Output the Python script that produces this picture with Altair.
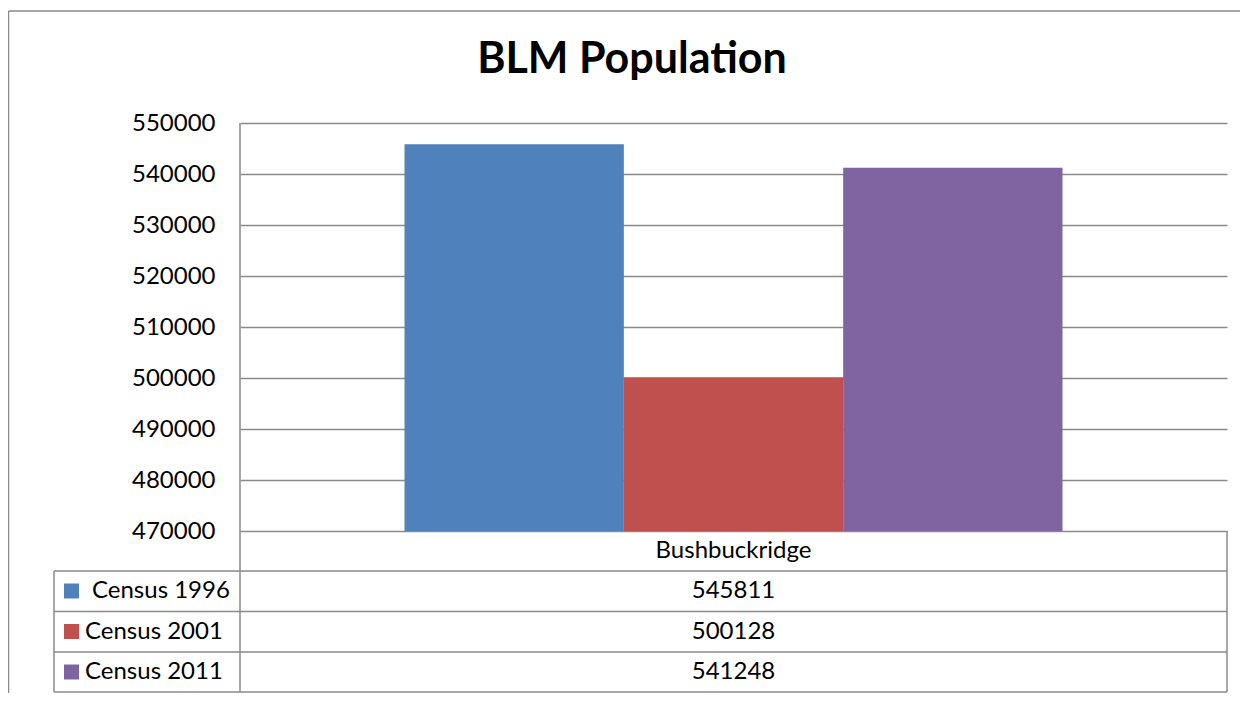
import altair as alt
import pandas as pd

# ---- data ----
title_text = "BLM Population"
regions = ["Bushbuckridge"]
series = ["Census 1996", "Census 2001", "Census 2011"]
values = [545811, 500128, 541248]
colors = ["#4F81BD", "#C0504D", "#8064A2"]
y_ticks = [470000, 480000, 490000, 500000, 510000, 520000, 530000, 540000, 550000]
y_domain = [470000, 550000]

df = pd.DataFrame({
    "region": regions * len(series),
    "series": series,
    "value": values,
})
df_regions = pd.DataFrame({"region": regions})
one = pd.DataFrame({"a": [0]})

# ---- layout (pixels, relative to plot area) ----
W, H = 987, 408
GRID = "#8a8a8a"
FONT = "Lato"
FS = 24
TL = -186          # table left
ROW_TOP = [448, 488.5, 529, 569]
HEADER_Y = 428

color_enc = alt.Color("series:N", sort=series,
                      scale=alt.Scale(domain=series, range=colors), legend=None)
row_y = alt.Y("series:N", sort=series,
              scale=alt.Scale(type="point", domain=series, range=[468, 549], padding=0),
              axis=None)


def rule(x, x2, y, y2, width=1.5):
    return alt.Chart(one).mark_rule(color=GRID, strokeWidth=width).encode(
        x=alt.value(x), x2=alt.value(x2), y=alt.value(y), y2=alt.value(y2))


bars = alt.Chart(df).mark_bar().encode(
    x=alt.X("region:N", scale=alt.Scale(paddingOuter=0.25, paddingInner=0), axis=None),
    xOffset=alt.XOffset("series:N", sort=series,
                        scale=alt.Scale(paddingInner=0, paddingOuter=0)),
    y=alt.Y("value:Q",
            scale=alt.Scale(domain=y_domain, zero=False, nice=False),
            axis=alt.Axis(values=y_ticks, grid=True, gridColor=GRID, gridWidth=1.5,
                          domain=False, ticks=False, labelFont=FONT, labelFontSize=FS,
                          labelColor="black", labelPadding=25, title=None, format="d")),
    y2=alt.datum(y_domain[0]),
    color=color_enc,
)

title = alt.Chart(pd.DataFrame({"t": [title_text]})).mark_text(
    font=FONT, fontSize=43, fontWeight="bold", color="black", baseline="alphabetic"
).encode(x=alt.value(392), y=alt.value(-50), text="t:N")

header = alt.Chart(df_regions).mark_text(font=FONT, fontSize=FS, color="black").encode(
    x=alt.value(W / 2), y=alt.value(HEADER_Y), text="region:N")

value_text = alt.Chart(df).mark_text(font=FONT, fontSize=FS, color="black").encode(
    x=alt.value(W / 2), y=row_y, text=alt.Text("value:Q", format="d"))

legend_sq = alt.Chart(df).mark_square(size=225, opacity=1).encode(
    x=alt.value(-168.5), y=row_y, color=color_enc)

# the first series name carries a leading space in the original table
legend_txt_first = alt.Chart(df).transform_filter(
    alt.datum.series == series[0]
).mark_text(font=FONT, fontSize=FS, color="black", align="left", dx=7).encode(
    x=alt.value(-155), y=row_y, text="series:N")
legend_txt_rest = alt.Chart(df).transform_filter(
    alt.datum.series != series[0]
).mark_text(font=FONT, fontSize=FS, color="black", align="left").encode(
    x=alt.value(-155), y=row_y, text="series:N")

lines = [
    rule(-231.5, 1000, -112, -112),        # outer border top
    rule(-231.5, -231.5, -112, 570),       # outer border left
    rule(0, 0, 0, ROW_TOP[-1]),            # value axis line / table divider
    rule(W, W, H, ROW_TOP[-1]),            # table right
    rule(TL, TL, ROW_TOP[0], ROW_TOP[-1]), # table left
]
for yy in ROW_TOP:
    lines.append(rule(TL, W, yy, yy))

chart = alt.layer(
    bars, *lines, title, header, value_text, legend_sq, legend_txt_first, legend_txt_rest
).resolve_scale(y="independent").properties(
    width=W, height=H,
    padding={"left": 232, "top": 115, "right": 13, "bottom": 162},
    autosize=alt.AutoSizeParams(type="none"),
    background="white",
).configure_view(stroke=None)

chart.save("out.html", embed_options={"renderer": "svg", "actions": False})
